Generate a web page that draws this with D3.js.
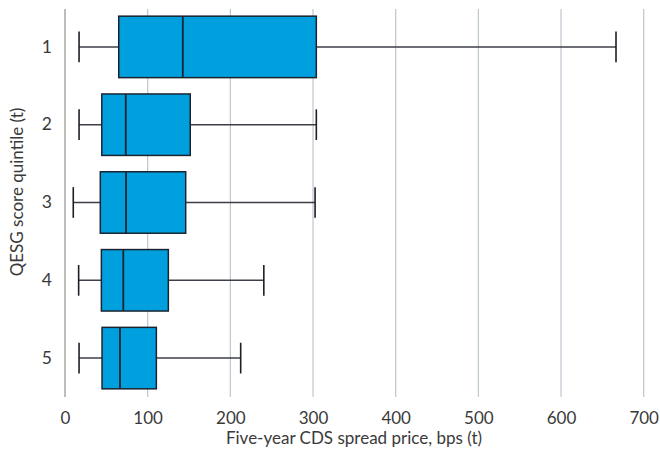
<!DOCTYPE html>
<html>
<head>
<meta charset="utf-8">
<script src="https://cdn.jsdelivr.net/npm/d3@7"></script>
<style>
  html, body { margin: 0; padding: 0; background: #fff; }
  svg { display: block; font-family: Lato, "Open Sans", sans-serif; }
</style>
</head>
<body>
<svg id="chart" width="660" height="458"></svg>
<script>
// Quintiles of QESG score (t)
const quintiles = ["1", "2", "3", "4", "5"];
// Five-number summaries of five-year CDS spread, bps
const whiskerLow  = [17, 17, 10, 16.5, 17];
const q1          = [65, 44.5, 42.7, 44, 44.8];
const median      = [142.5, 73.5, 73.8, 70.5, 66.5];
const q3          = [304, 151.5, 146, 125, 110.5];
const whiskerHigh = [666.5, 304, 302.5, 240.5, 212.5];
const xTicks = [0, 100, 200, 300, 400, 500, 600, 700];

const FONT = "Lato, 'Open Sans', sans-serif";
const TEXT = "#3a3a3a";
const svg = d3.select("#chart");
const x = d3.scaleLinear().domain([0, 700]).range([65, 643.7]);
const y = d3.scaleBand().domain(quintiles).range([8, 397]).paddingInner(0.21).paddingOuter(0.105);

const rows = quintiles.map((q, i) => ({
  q, lo: whiskerLow[i], q1: q1[i], med: median[i], q3: q3[i], hi: whiskerHigh[i]
}));

// vertical gridlines
svg.append("g").selectAll("line")
  .data(xTicks.filter(d => d > 0))
  .join("line")
  .attr("x1", d => x(d)).attr("x2", d => x(d))
  .attr("y1", 9).attr("y2", 397)
  .attr("stroke", "#bcc6cf").attr("stroke-width", 1.2);

// value axis baseline at zero
svg.append("line")
  .attr("x1", x(0)).attr("x2", x(0)).attr("y1", 9).attr("y2", 397)
  .attr("stroke", "#9a9a9a").attr("stroke-width", 1.3);

// x tick labels (baseline placed directly)
const xAxis = svg.append("g")
  .attr("transform", "translate(0,0)")
  .call(d3.axisBottom(x).tickValues(xTicks).tickSize(0).tickPadding(0));
xAxis.select(".domain").remove();
xAxis.selectAll("text")
  .attr("y", 424).attr("dy", null)
  .attr("fill", TEXT).attr("font-size", 17)
  .attr("font-family", FONT);

// y tick labels
const yAxis = svg.append("g")
  .attr("transform", "translate(52,0)")
  .call(d3.axisLeft(y).tickSize(0).tickPadding(0));
yAxis.select(".domain").remove();
yAxis.selectAll("text")
  .attr("fill", TEXT).attr("font-size", 17.5)
  .attr("font-family", FONT);

// axis titles
svg.append("text")
  .attr("x", 354).attr("y", 444)
  .attr("text-anchor", "middle")
  .attr("fill", TEXT).attr("font-size", 17)
  .text("Five-year CDS spread price, bps (t)");

svg.append("text")
  .attr("transform", "translate(23,192) rotate(-90)")
  .attr("text-anchor", "middle")
  .attr("fill", TEXT).attr("font-size", 17)
  .text("QESG score quintile (t)");

// box plots
const bw = y.bandwidth();
const g = svg.append("g").selectAll("g")
  .data(rows).join("g")
  .attr("transform", d => `translate(0,${y(d.q)})`);

// whisker line
g.append("line")
  .attr("x1", d => x(d.lo)).attr("x2", d => x(d.hi))
  .attr("y1", bw / 2).attr("y2", bw / 2)
  .attr("stroke", "#3e3e48").attr("stroke-width", 1.5);

// whisker caps
["lo", "hi"].forEach(k => {
  g.append("line")
    .attr("x1", d => x(d[k])).attr("x2", d => x(d[k]))
    .attr("y1", bw / 4).attr("y2", bw * 3 / 4)
    .attr("stroke", "#1e1e28").attr("stroke-width", 1.6);
});

// box
g.append("rect")
  .attr("x", d => x(d.q1)).attr("width", d => x(d.q3) - x(d.q1))
  .attr("y", 0).attr("height", bw)
  .attr("fill", "#00a0df")
  .attr("stroke", "#1b2330").attr("stroke-width", 1.5);

// median
g.append("line")
  .attr("x1", d => x(d.med)).attr("x2", d => x(d.med))
  .attr("y1", 0).attr("y2", bw)
  .attr("stroke", "#1b2330").attr("stroke-width", 1.8);
</script>
</body>
</html>
